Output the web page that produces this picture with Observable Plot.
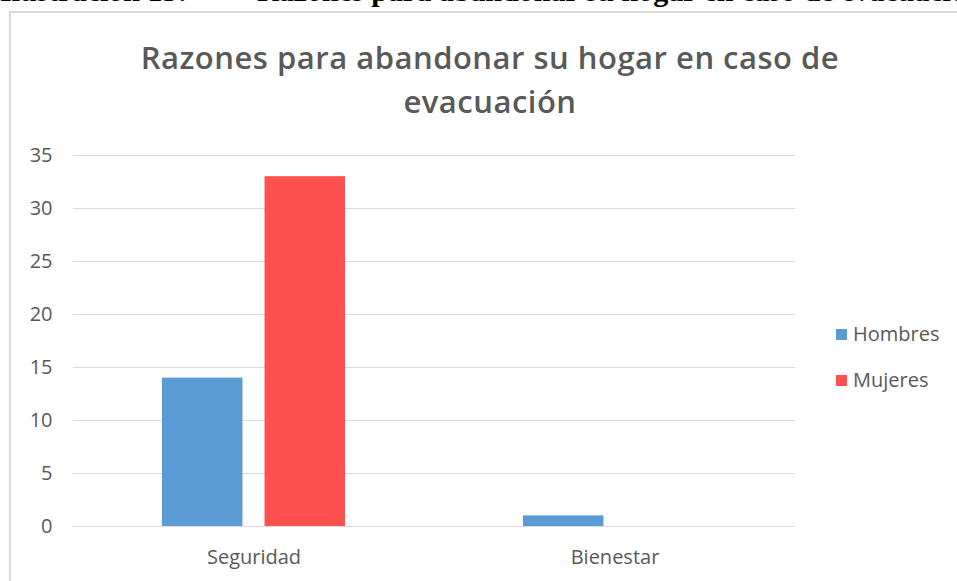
<!DOCTYPE html>
<html>
<head>
<meta charset="utf-8">
<script src="https://cdn.jsdelivr.net/npm/d3@7"></script>
<script src="https://cdn.jsdelivr.net/npm/@observablehq/plot@0.6"></script>
<style>
  html, body { margin: 0; padding: 0; background: #fff; }
  #page { position: relative; width: 957px; height: 581px; overflow: hidden; background: #fff; }
  .cap { position: absolute; top: -24px; font-family: "Liberation Serif", serif; font-weight: bold; font-size: 30px; line-height: 30px; color: #000; white-space: nowrap; }
  #box { position: absolute; left: 9px; top: 11px; width: 1000px; height: 620px; border: 2px solid #d9d9d9; box-sizing: border-box; }
  #title { position: absolute; left: 40px; width: 900px; top: 35px; text-align: center; font-family: "Open Sans", sans-serif; font-weight: 600; font-size: 31px; letter-spacing: 0.5px; line-height: 44px; color: #595959; }
  #chart { position: absolute; left: 0; top: 0; }
  .leg { position: absolute; left: 836px; font-family: "Open Sans", sans-serif; font-size: 20px; color: #595959; white-space: nowrap; line-height: 24px; }
  .leg span.sw { display: inline-block; width: 11px; height: 11px; margin-right: 6px; vertical-align: 1px; }
</style>
</head>
<body>
<div id="page">
  <div class="cap" style="left:0px">Ilustración 15:</div>
  <div class="cap" style="left:257px">Razones para abandonar su hogar en caso de evacuación</div>
  <div id="box"></div>
  <div id="chart"></div>
  <div id="title">Razones para abandonar su hogar en caso de<br>evacuación</div>
  <div id="legend"></div>
</div>
<script>
const categories = ["Seguridad", "Bienestar"];
const series = ["Hombres", "Mujeres"];
const hombres = [14, 1];
const mujeres = [33, 0];
const colors = ["#5B9BD5", "#FF5050"];
const yTicks = [0, 5, 10, 15, 20, 25, 30, 35];

const data = [];
categories.forEach((c, i) => {
  data.push({cat: c, sex: series[0], value: hombres[i]});
  data.push({cat: c, sex: series[1], value: mujeres[i]});
});

const chart = Plot.plot({
  width: 957,
  height: 581,
  marginLeft: 73,
  marginRight: 162,
  marginTop: 155,
  marginBottom: 55,
  style: {fontFamily: "Open Sans, sans-serif", fontSize: "20px", color: "#595959", background: "transparent", overflow: "visible"},
  fx: {domain: categories, padding: 0, axis: null, label: null},
  x: {domain: series, paddingInner: 0.215, paddingOuter: 0.868, axis: null, round: false},
  y: {domain: [0, 35], label: null, axis: null},
  color: {domain: series, range: colors},
  marks: [
    Plot.gridY(yTicks, {stroke: "#d9d9d9", strokeOpacity: 1, strokeWidth: 1}),
    Plot.barY(data, {fx: "cat", x: "sex", y: "value", fill: "sex"}),
    Plot.axisY(yTicks, {tickSize: 0, tickPadding: 21, fontSize: 20, label: null, fill: "#595959"}),
    Plot.axisFx({anchor: "bottom", tickSize: 0, tickPadding: 23, fontSize: 20, label: null, fill: "#595959"})
  ]
});
document.getElementById("chart").appendChild(chart);

const legend = document.getElementById("legend");
series.forEach((s, i) => {
  const d = document.createElement("div");
  d.className = "leg";
  d.style.top = (322 + i * 46) + "px";
  d.innerHTML = `<span class="sw" style="background:${colors[i]}"></span>${s}`;
  legend.appendChild(d);
});
</script>
</body>
</html>
